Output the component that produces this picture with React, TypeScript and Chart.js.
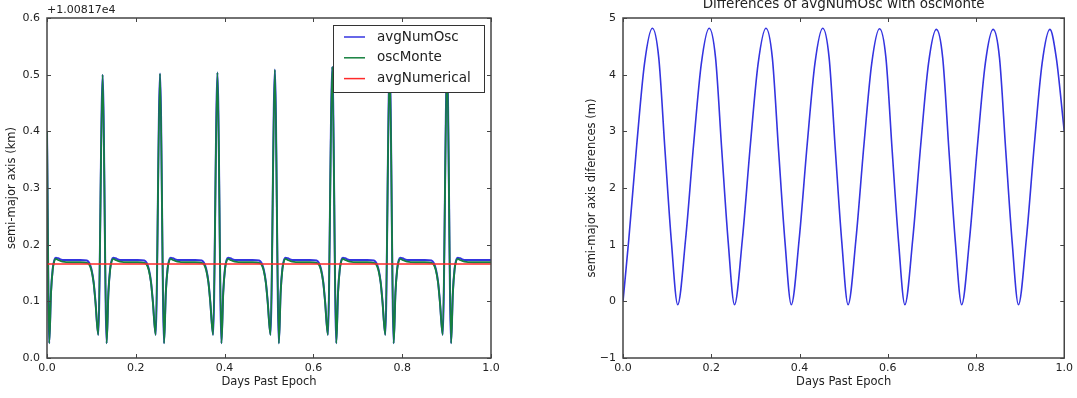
import React, { useEffect, useRef } from "react";
import { Chart, registerables } from "chart.js";
Chart.register(...registerables);

const FONT = "'DejaVu Sans', sans-serif";
const TEXT = "#222222";
const FRAME = "#444444";

// ---------- Left panel: semi-major axis (km, offset +1.00817e4) ----------
const leftDays = [
  0, 0.005, 0.009, 0.013, 0.0165, 0.02, 0.025, 0.035, 0.055, 0.075, 0.09, 0.095, 0.1, 0.105, 0.109,
  0.1155, 0.1253, 0.1343, 0.1383, 0.1423, 0.1458, 0.1493, 0.1543, 0.1643, 0.1843, 0.2043, 0.2193, 0.2243, 0.2293, 0.2343, 0.2383,
  0.2448, 0.2546, 0.2636, 0.2676, 0.2716, 0.2751, 0.2786, 0.2836, 0.2936, 0.3136, 0.3336, 0.3486, 0.3536, 0.3586, 0.3636, 0.3676,
  0.3741, 0.3839, 0.3929, 0.3969, 0.4009, 0.4044, 0.4079, 0.4129, 0.4229, 0.4429, 0.4629, 0.4779, 0.4829, 0.4879, 0.4929, 0.4969,
  0.5034, 0.5132, 0.5222, 0.5262, 0.5302, 0.5337, 0.5372, 0.5422, 0.5522, 0.5722, 0.5922, 0.6072, 0.6122, 0.6172, 0.6222, 0.6262,
  0.6327, 0.6425, 0.6515, 0.6555, 0.6595, 0.663, 0.6665, 0.6715, 0.6815, 0.7015, 0.7215, 0.7365, 0.7415, 0.7465, 0.7515, 0.7555,
  0.762, 0.7718, 0.7808, 0.7848, 0.7888, 0.7923, 0.7958, 0.8008, 0.8108, 0.8308, 0.8508, 0.8658, 0.8708, 0.8758, 0.8808, 0.8848,
  0.8913, 0.9011, 0.9101, 0.9141, 0.9181, 0.9216, 0.9251, 0.9301, 0.9401, 0.9601, 0.9801, 1.0,
];

const avgNumOsc = [
  0.4, 0.026, 0.116, 0.158, 0.173, 0.177, 0.176, 0.173, 0.173, 0.173, 0.172, 0.168, 0.157, 0.134, 0.101,
  0.041, 0.5, 0.026, 0.116, 0.158, 0.173, 0.177, 0.176, 0.173, 0.173, 0.173, 0.172, 0.168, 0.157, 0.134, 0.101,
  0.041, 0.502, 0.026, 0.116, 0.158, 0.173, 0.177, 0.176, 0.173, 0.173, 0.173, 0.172, 0.168, 0.157, 0.134, 0.101,
  0.041, 0.504, 0.026, 0.116, 0.158, 0.173, 0.177, 0.176, 0.173, 0.173, 0.173, 0.172, 0.168, 0.157, 0.134, 0.101,
  0.041, 0.509, 0.026, 0.116, 0.158, 0.173, 0.177, 0.176, 0.173, 0.173, 0.173, 0.172, 0.168, 0.157, 0.134, 0.101,
  0.041, 0.514, 0.026, 0.116, 0.158, 0.173, 0.177, 0.176, 0.173, 0.173, 0.173, 0.172, 0.168, 0.157, 0.134, 0.101,
  0.041, 0.518, 0.026, 0.116, 0.158, 0.173, 0.177, 0.176, 0.173, 0.173, 0.173, 0.172, 0.168, 0.157, 0.134, 0.101,
  0.041, 0.52, 0.026, 0.116, 0.158, 0.173, 0.177, 0.176, 0.173, 0.173, 0.173, 0.173,
];

const oscMonte = [
  0.4, 0.026, 0.115, 0.157, 0.171, 0.175, 0.173, 0.17, 0.169, 0.169, 0.168, 0.165, 0.155, 0.133, 0.1,
  0.041, 0.5, 0.026, 0.115, 0.157, 0.171, 0.175, 0.173, 0.17, 0.169, 0.169, 0.168, 0.165, 0.155, 0.133, 0.1,
  0.041, 0.502, 0.026, 0.115, 0.157, 0.171, 0.175, 0.173, 0.17, 0.169, 0.169, 0.168, 0.165, 0.155, 0.133, 0.1,
  0.041, 0.504, 0.026, 0.115, 0.157, 0.171, 0.175, 0.173, 0.17, 0.169, 0.169, 0.168, 0.165, 0.155, 0.133, 0.1,
  0.041, 0.509, 0.026, 0.115, 0.157, 0.171, 0.175, 0.173, 0.17, 0.169, 0.169, 0.168, 0.165, 0.155, 0.133, 0.1,
  0.041, 0.514, 0.026, 0.115, 0.157, 0.171, 0.175, 0.173, 0.17, 0.169, 0.169, 0.168, 0.165, 0.155, 0.133, 0.1,
  0.041, 0.518, 0.026, 0.115, 0.157, 0.171, 0.175, 0.173, 0.17, 0.169, 0.169, 0.168, 0.165, 0.155, 0.133, 0.1,
  0.041, 0.52, 0.026, 0.115, 0.157, 0.171, 0.175, 0.173, 0.17, 0.169, 0.169, 0.169,
];

const avgNumericalDays = [0, 1];
const avgNumerical = [0.166, 0.166];

const leftSeriesNames = ["avgNumOsc", "oscMonte", "avgNumerical"];
const leftYTicks = [0, 0.1, 0.2, 0.3, 0.4, 0.5, 0.6];
const leftOffsetText = "+1.00817e4";

// ---------- Right panel: differences (m) ----------
const diffDays = [
  0, 0.0132, 0.031, 0.0488, 0.0666,
  0.081, 0.0953, 0.1097, 0.124,
  0.1419, 0.1598, 0.1776, 0.1953,
  0.2097, 0.224, 0.2384, 0.2527,
  0.2706, 0.2885, 0.3063, 0.324,
  0.3384, 0.3527, 0.3671, 0.3814,
  0.3993, 0.4172, 0.435, 0.4527,
  0.4671, 0.4814, 0.4958, 0.5101,
  0.528, 0.5459, 0.5637, 0.5814,
  0.5958, 0.6101, 0.6245, 0.6388,
  0.6567, 0.6746, 0.6924, 0.7101,
  0.7245, 0.7388, 0.7532, 0.7675,
  0.7854, 0.8033, 0.8211, 0.8388,
  0.8532, 0.8675, 0.8819, 0.8962,
  0.9141, 0.932, 0.9498, 0.9675,
  0.9819, 1.0,
];
const diffMeters = [
  0, 1.1, 2.75, 4.2, 4.82,
  4.3, 2.65, 1.05, -0.06,
  1.1, 2.75, 4.2, 4.82,
  4.3, 2.65, 1.05, -0.06,
  1.1, 2.75, 4.2, 4.82,
  4.3, 2.65, 1.05, -0.06,
  1.1, 2.75, 4.2, 4.82,
  4.3, 2.65, 1.05, -0.06,
  1.1, 2.75, 4.2, 4.81,
  4.3, 2.65, 1.05, -0.06,
  1.1, 2.75, 4.2, 4.8,
  4.3, 2.65, 1.05, -0.06,
  1.1, 2.75, 4.2, 4.8,
  4.3, 2.65, 1.05, -0.06,
  1.1, 2.75, 4.2, 4.8,
  4.3, 3.0,
];
const rightYTicks = [-1, 0, 1, 2, 3, 4, 5];
const rightTitle = "Differences of avgNumOsc with oscMonte";

const xTicks = [0, 0.2, 0.4, 0.6, 0.8, 1.0];
const xTitle = "Days Past Epoch";
const leftYTitle = "semi-major axis (km)";
const rightYTitle = "semi-major axis diferences (m)";

const seriesColors = { blue: "#3434e0", green: "#15803e", red: "#ff2a2a" };

const pts = (xs: number[], ys: number[]) => xs.map((x, i) => ({ x, y: ys[i] }));

const framePlugin = {
  id: "frameTicks",
  afterDatasetsDraw(chart: any) {
    const { ctx, chartArea: a, scales } = chart;
    ctx.save();
    ctx.strokeStyle = FRAME;
    ctx.lineWidth = 1;
    const tl = 4;
    ctx.beginPath();
    for (const t of scales.x.ticks) {
      const px = Math.round(scales.x.getPixelForValue(t.value)) + 0.5;
      ctx.moveTo(px, a.bottom);
      ctx.lineTo(px, a.bottom - tl);
      ctx.moveTo(px, a.top);
      ctx.lineTo(px, a.top + tl);
    }
    for (const t of scales.y.ticks) {
      const py = Math.round(scales.y.getPixelForValue(t.value)) + 0.5;
      ctx.moveTo(a.left, py);
      ctx.lineTo(a.left + tl, py);
      ctx.moveTo(a.right, py);
      ctx.lineTo(a.right - tl, py);
    }
    ctx.stroke();
    ctx.lineWidth = 1.5;
    ctx.strokeRect(a.left, a.top, a.right - a.left, a.bottom - a.top);
    ctx.restore();
  },
};

const leftExtrasPlugin = {
  id: "leftExtras",
  afterDraw(chart: any) {
    const { ctx, chartArea: a } = chart;
    ctx.save();
    // offset text
    ctx.fillStyle = TEXT;
    ctx.font = `11px ${FONT}`;
    ctx.textAlign = "left";
    ctx.textBaseline = "alphabetic";
    ctx.fillText(leftOffsetText, a.left, a.top - 5);
    // legend
    const bx = a.right - 158;
    const by = a.top + 7;
    const bw = 151;
    const bh = 67;
    ctx.fillStyle = "#ffffff";
    ctx.fillRect(bx, by, bw, bh);
    ctx.strokeStyle = "#333333";
    ctx.lineWidth = 1;
    ctx.strokeRect(bx + 0.5, by + 0.5, bw, bh);
    const cols = [seriesColors.blue, seriesColors.green, seriesColors.red];
    ctx.font = `13.5px ${FONT}`;
    ctx.textBaseline = "middle";
    leftSeriesNames.forEach((name, i) => {
      const y = by + 12 + i * 20.8;
      ctx.strokeStyle = cols[i];
      ctx.lineWidth = 1.5;
      ctx.beginPath();
      ctx.moveTo(bx + 11, y);
      ctx.lineTo(bx + 32, y);
      ctx.stroke();
      ctx.fillStyle = TEXT;
      ctx.fillText(name, bx + 44, y);
    });
    ctx.restore();
  },
};

const rightTitlePlugin = {
  id: "rightTitle",
  afterDraw(chart: any) {
    const { ctx, chartArea: a } = chart;
    ctx.save();
    ctx.fillStyle = TEXT;
    ctx.font = `13.5px ${FONT}`;
    ctx.textAlign = "center";
    ctx.textBaseline = "middle";
    ctx.fillText(rightTitle, (a.left + a.right) / 2, 4);
    ctx.restore();
  },
};

function axisOptions(opts: {
  yMin: number;
  yMax: number;
  yTicks: number[];
  yTitle: string;
  yWidth: number;
  yFmt: (v: number) => string;
}) {
  const font = { family: FONT, size: 11 };
  const titleFont = { family: FONT, size: 11.5 };
  return {
    x: {
      type: "linear",
      min: 0,
      max: 1,
      afterBuildTicks: (s: any) => {
        s.ticks = xTicks.map((v) => ({ value: v }));
      },
      afterFit: (s: any) => {
        s.height = 40;
      },
      grid: { display: false, drawTicks: false },
      border: { display: false },
      ticks: {
        padding: 4,
        font,
        color: TEXT,
        autoSkip: false,
        maxRotation: 0,
        callback: (v: any) => Number(v).toFixed(1),
      },
      title: { display: true, text: xTitle, font: titleFont, color: TEXT, padding: { top: 0, bottom: 9 } },
    },
    y: {
      type: "linear",
      min: opts.yMin,
      max: opts.yMax,
      afterBuildTicks: (s: any) => {
        s.ticks = opts.yTicks.map((v) => ({ value: v }));
      },
      afterFit: (s: any) => {
        s.width = opts.yWidth;
      },
      grid: { display: false, drawTicks: false },
      border: { display: false },
      ticks: { padding: 7, font, color: TEXT, autoSkip: false, callback: (v: any) => opts.yFmt(Number(v)) },
      title: { display: true, text: opts.yTitle, font: titleFont, color: TEXT, padding: { top: 5, bottom: 0 } },
    },
  };
}

const baseOptions = {
  responsive: false,
  animation: false,
  devicePixelRatio: 1,
  events: [],
  plugins: { legend: { display: false }, tooltip: { enabled: false }, title: { display: false } },
  elements: { point: { radius: 0 }, line: { cubicInterpolationMode: "monotone", borderWidth: 1.8 } },
};

export default function App() {
  const leftRef = useRef<HTMLCanvasElement>(null);
  const rightRef = useRef<HTMLCanvasElement>(null);

  useEffect(() => {
    const left = new Chart(leftRef.current as HTMLCanvasElement, {
      type: "line",
      data: {
        datasets: [
          { label: leftSeriesNames[2], data: pts(avgNumericalDays, avgNumerical), borderColor: seriesColors.red, borderWidth: 1.6, order: 0 },
          { label: leftSeriesNames[1], data: pts(leftDays, oscMonte), borderColor: seriesColors.green, borderWidth: 1.8, order: 1 },
          { label: leftSeriesNames[0], data: pts(leftDays, avgNumOsc), borderColor: seriesColors.blue, borderWidth: 2, order: 2 },
        ],
      },
      options: {
        ...baseOptions,
        layout: { padding: { left: 0, right: 49, top: 18, bottom: 0 } },
        scales: axisOptions({
          yMin: 0,
          yMax: 0.6,
          yTicks: leftYTicks,
          yTitle: leftYTitle,
          yWidth: 47,
          yFmt: (v) => v.toFixed(1),
        }),
      } as any,
      plugins: [framePlugin, leftExtrasPlugin],
    });

    const right = new Chart(rightRef.current as HTMLCanvasElement, {
      type: "line",
      data: {
        datasets: [{ label: "diff", data: pts(diffDays, diffMeters), borderColor: seriesColors.blue, borderWidth: 1.6 }],
      },
      options: {
        ...baseOptions,
        layout: { padding: { left: 40, right: 9, top: 18, bottom: 0 } },
        scales: axisOptions({
          yMin: -1,
          yMax: 5,
          yTicks: rightYTicks,
          yTitle: rightYTitle,
          yWidth: 43,
          yFmt: (v) => (v < 0 ? "\u2212" + Math.abs(v).toFixed(0) : v.toFixed(0)),
        }),
      } as any,
      plugins: [framePlugin, rightTitlePlugin],
    });

    return () => {
      left.destroy();
      right.destroy();
    };
  }, []);

  return (
    <div style={{ position: "fixed", left: 0, top: 0, width: 1077, height: 398, background: "#ffffff", overflow: "hidden" }}>
      <canvas ref={leftRef} width={540} height={398} style={{ position: "absolute", left: 0, top: 0, width: 540, height: 398 }} />
      <canvas ref={rightRef} width={537} height={398} style={{ position: "absolute", left: 540, top: 0, width: 537, height: 398 }} />
    </div>
  );
}
